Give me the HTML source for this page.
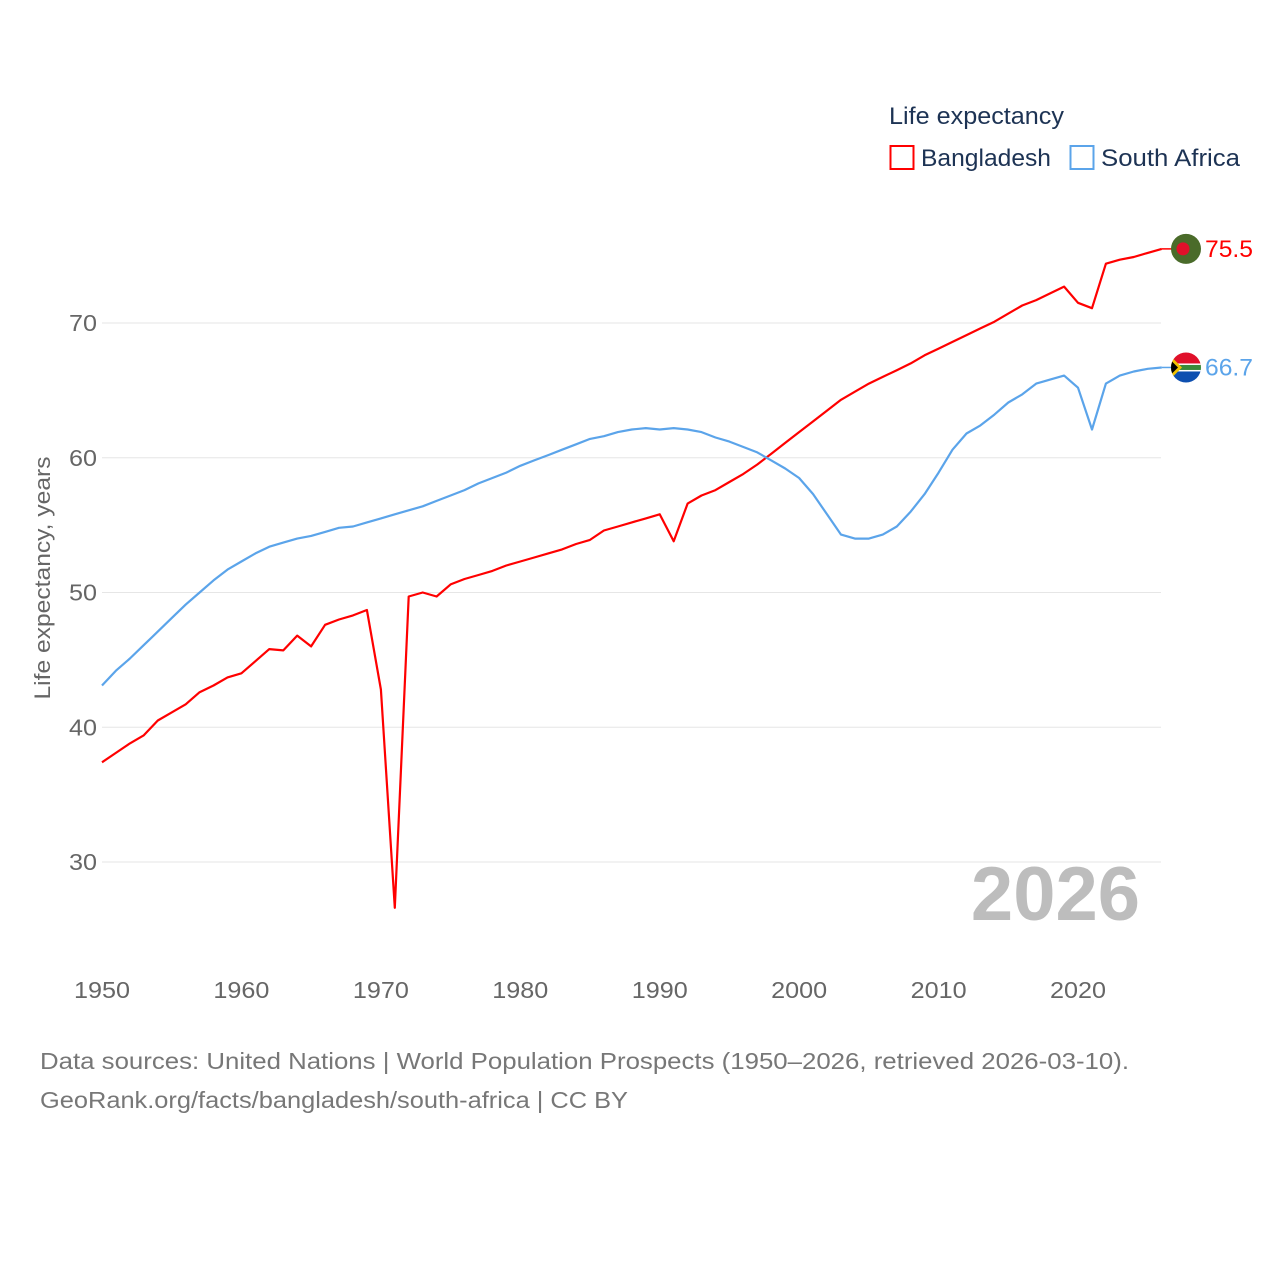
<!DOCTYPE html>
<html><head><meta charset="utf-8"><style>
body{margin:0;background:#fff;width:1280px;height:1280px;overflow:hidden;font-family:"Liberation Sans",sans-serif}
svg{display:block}
</style></head><body>
<svg id="chart" width="1280" height="1280" xmlns="http://www.w3.org/2000/svg">
<g id="grid"></g>
<g id="yticks"></g>
<g id="xticks"></g>
<text x="50" y="578" transform="rotate(-90 50 578)" text-anchor="middle" font-size="22" fill="#666" textLength="243" lengthAdjust="spacingAndGlyphs">Life expectancy, years</text>
<text x="1140" y="920" text-anchor="end" font-size="76" font-weight="bold" fill="#bdbdbd">2026</text>
<g id="series"></g>
<g>
<text x="889" y="124" font-size="24" fill="#1d3354" textLength="175" lengthAdjust="spacingAndGlyphs">Life expectancy</text>
<g><rect x="890.5" y="146" width="23" height="23" fill="none" stroke="#ff0000" stroke-width="2"/><text x="921" y="166" font-size="24" fill="#1d3354" textLength="130" lengthAdjust="spacingAndGlyphs">Bangladesh</text></g>
<g><rect x="1070.5" y="146" width="23" height="23" fill="none" stroke="#5ba4ea" stroke-width="2"/><text x="1101" y="166" font-size="24" fill="#1d3354" textLength="139" lengthAdjust="spacingAndGlyphs">South Africa</text></g>
</g>
<text x="40" y="1069" font-size="23" fill="#777" textLength="1089" lengthAdjust="spacingAndGlyphs">Data sources: United Nations | World Population Prospects (1950–2026, retrieved 2026-03-10).</text>
<text x="40" y="1108" font-size="23" fill="#777" textLength="588" lengthAdjust="spacingAndGlyphs">GeoRank.org/facts/bangladesh/south-africa | CC BY</text>
</svg>
<script>
const years=[];for(let y=1950;y<=2026;y++)years.push(y);
const bangladesh=[37.4,38.1,38.8,39.4,40.5,41.1,41.7,42.6,43.1,43.7,44.0,44.9,45.8,45.7,46.8,46.0,47.6,48.0,48.3,48.7,42.8,26.6,49.7,50.0,49.7,50.6,51.0,51.3,51.6,52.0,52.3,52.6,52.9,53.2,53.6,53.9,54.6,54.9,55.2,55.5,55.8,53.8,56.6,57.2,57.6,58.2,58.8,59.5,60.3,61.1,61.9,62.7,63.5,64.3,64.9,65.5,66.0,66.5,67.0,67.6,68.1,68.6,69.1,69.6,70.1,70.7,71.3,71.7,72.2,72.7,71.5,71.1,74.4,74.7,74.9,75.2,75.5];
const southAfrica=[43.1,44.2,45.1,46.1,47.1,48.1,49.1,50.0,50.9,51.7,52.3,52.9,53.4,53.7,54.0,54.2,54.5,54.8,54.9,55.2,55.5,55.8,56.1,56.4,56.8,57.2,57.6,58.1,58.5,58.9,59.4,59.8,60.2,60.6,61.0,61.4,61.6,61.9,62.1,62.2,62.1,62.2,62.1,61.9,61.5,61.2,60.8,60.4,59.8,59.2,58.5,57.3,55.8,54.3,54.0,54.0,54.3,54.9,56.0,57.3,58.9,60.6,61.8,62.4,63.2,64.1,64.7,65.5,65.8,66.1,65.2,62.1,65.5,66.1,66.4,66.6,66.7];
const yTicks=[30,40,50,60,70];
const xTicks=[1950,1960,1970,1980,1990,2000,2010,2020];
const X=y=>102+(y-1950)*13.943;
const Y=v=>323+(70-v)*13.475;
const NS="http://www.w3.org/2000/svg";
function mk(t,a,p){const e=document.createElementNS(NS,t);for(const k in a)e.setAttribute(k,a[k]);p.appendChild(e);return e;}
const grid=document.getElementById('grid'),yt=document.getElementById('yticks'),xt=document.getElementById('xticks'),ser=document.getElementById('series');
yTicks.forEach(v=>{
 const l=mk('line',{x1:102,x2:1161,y1:Y(v),y2:Y(v),stroke:'#e6e6e6','stroke-width':1},grid);
 
 
 const t=mk('text',{x:97,y:Y(v)+8,'text-anchor':'end','font-size':23,fill:'#666',textLength:28,lengthAdjust:'spacingAndGlyphs'},yt);t.textContent=v;
 
 
});
xTicks.forEach(v=>{
 const t=mk('text',{x:X(v),y:998,'text-anchor':'middle','font-size':23,fill:'#666',textLength:56,lengthAdjust:'spacingAndGlyphs'},xt);t.textContent=v;
 
 
});
function line(vals,color,name){
 const d=vals.map((v,i)=>(i?'L':'M')+X(years[i]).toFixed(1)+' '+Y(v).toFixed(1)).join(' ');
 const p=mk('path',{d:d,fill:'none',stroke:color,'stroke-width':2.2,'stroke-linejoin':'round'},ser);
 
 
 const last=vals[vals.length-1],ly=Y(last);
 mk('line',{x1:X(2026),x2:1176,y1:ly,y2:ly,stroke:color,'stroke-width':1.5},ser);
 const t=mk('text',{x:1205,y:ly+8,'font-size':24,fill:color,textLength:48,lengthAdjust:'spacingAndGlyphs'},ser);t.textContent=last.toFixed(1);
 
 
 return ly;
}
const by=line(bangladesh,'#ff0000','bangladesh');
const sy=line(southAfrica,'#5ba4ea','south-africa');
const f1=mk('g',{},ser);


mk('circle',{cx:1186,cy:by,r:15,fill:'#4a6b2a'},f1);
mk('circle',{cx:1183,cy:by,r:6.5,fill:'#e0102a'},f1);
const f2=mk('g',{},ser);


mk('clipPath',{id:'cp'},f2).appendChild(document.createElementNS(NS,'circle'));
const cc=f2.querySelector('clipPath circle');cc.setAttribute('cx',1186);cc.setAttribute('cy',sy);cc.setAttribute('r',15);
const g2=mk('g',{'clip-path':'url(#cp)'},f2);
mk('rect',{x:1170,y:sy-16,width:32,height:16,fill:'#e0102a'},g2);
mk('rect',{x:1170,y:sy,width:32,height:16,fill:'#0d4fb0'},g2);
mk('rect',{x:1170,y:sy-4,width:32,height:8,fill:'#fff'},g2);
mk('rect',{x:1170,y:sy-2.5,width:32,height:5,fill:'#3a8a3a'},g2);
mk('polygon',{points:`1170,${sy-12} 1182,${sy} 1170,${sy+12}`,fill:'#f2c300'},g2);
mk('polygon',{points:`1170,${sy-8} 1178,${sy} 1170,${sy+8}`,fill:'#000'},g2);
</script>
</body></html>
